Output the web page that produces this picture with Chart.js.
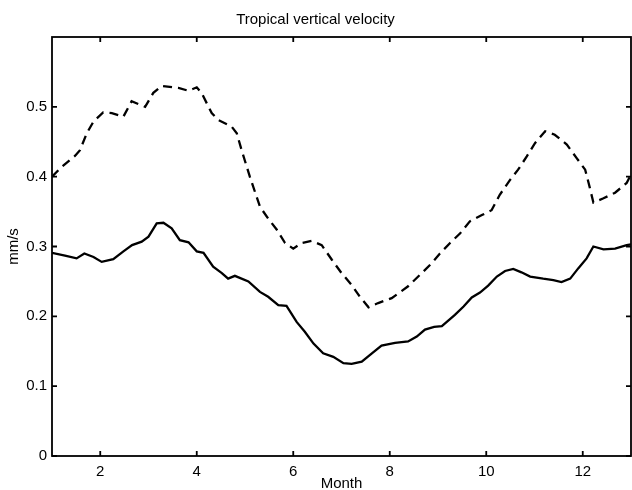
<!DOCTYPE html>
<html>
<head>
<meta charset="utf-8">
<script src="https://cdn.jsdelivr.net/npm/chart.js@4/dist/chart.umd.min.js"></script>
<style>
  html, body { margin: 0; padding: 0; background: #fff; }
  #wrap { width: 632px; height: 490px; }
</style>
</head>
<body>
<div id="wrap"><canvas id="c"></canvas></div>
<script>
// upper curve (dashed)
const dashedMonth = [1.00,1.20,1.48,1.58,1.72,1.86,2.06,2.24,2.48,2.65,2.93,3.10,3.27,3.62,3.83,4.00,4.10,4.31,4.45,4.72,4.83,4.93,5.10,5.31,5.48,5.66,5.83,6.00,6.17,6.38,6.59,6.80,7.00,7.21,7.38,7.56,7.76,8.04,8.38,8.59,8.87,9.04,9.25,9.46,9.66,9.91,10.11,10.28,10.49,10.66,10.84,11.01,11.22,11.42,11.67,11.87,12.05,12.14,12.22,12.43,12.67,12.91,13.00];
const dashedVals  = [0.400,0.414,0.430,0.438,0.462,0.479,0.492,0.491,0.486,0.508,0.500,0.520,0.530,0.527,0.523,0.528,0.520,0.491,0.481,0.472,0.462,0.438,0.400,0.357,0.340,0.324,0.305,0.297,0.305,0.308,0.302,0.281,0.262,0.245,0.228,0.213,0.219,0.226,0.243,0.257,0.276,0.290,0.305,0.319,0.336,0.345,0.352,0.374,0.395,0.410,0.429,0.448,0.465,0.460,0.446,0.427,0.410,0.386,0.363,0.369,0.377,0.391,0.403];

// lower curve (solid)
const solidMonth = [1.00,1.27,1.51,1.67,1.86,2.03,2.27,2.48,2.66,2.86,3.00,3.17,3.31,3.48,3.65,3.83,4.00,4.14,4.34,4.52,4.65,4.79,5.07,5.31,5.48,5.69,5.86,6.07,6.24,6.42,6.62,6.83,7.04,7.21,7.42,7.63,7.83,8.11,8.38,8.56,8.73,8.92,9.08,9.35,9.53,9.70,9.87,10.04,10.22,10.39,10.56,10.73,10.91,11.18,11.39,11.56,11.74,11.91,12.08,12.22,12.43,12.67,12.91,13.00];
const solidVals  = [0.291,0.287,0.283,0.290,0.285,0.278,0.282,0.293,0.302,0.307,0.314,0.333,0.334,0.326,0.309,0.306,0.293,0.291,0.271,0.262,0.254,0.258,0.250,0.235,0.228,0.216,0.215,0.192,0.178,0.161,0.147,0.142,0.133,0.132,0.135,0.147,0.158,0.162,0.164,0.171,0.181,0.185,0.186,0.202,0.214,0.227,0.234,0.244,0.257,0.265,0.268,0.263,0.257,0.254,0.252,0.249,0.254,0.269,0.283,0.300,0.296,0.297,0.302,0.303];

const xTicks = [2, 4, 6, 8, 10, 12];
const yTicks = [0, 0.1, 0.2, 0.3, 0.4, 0.5];

const FONT = "'Liberation Sans', Arial, sans-serif";

function toPoints(xs, ys) {
    return xs.map((x, i) => ({ x: x, y: ys[i] }));
}

// matlab style box with inward ticks
const boxPlugin = {
    id: 'boxPlugin',
    afterDatasetsDraw(chart) {
        const ctx = chart.ctx;
        const a = chart.chartArea;
        const xs = chart.scales.x, ys = chart.scales.y;
        const len = 5;
        ctx.save();
        ctx.strokeStyle = '#000';
        ctx.lineWidth = 1.8;
        ctx.strokeRect(a.left, a.top, a.right - a.left, a.bottom - a.top);
        ctx.beginPath();
        xTicks.forEach(v => {
            const px = xs.getPixelForValue(v);
            ctx.moveTo(px, a.bottom); ctx.lineTo(px, a.bottom - len);
            ctx.moveTo(px, a.top); ctx.lineTo(px, a.top + len);
        });
        yTicks.forEach(v => {
            const py = ys.getPixelForValue(v);
            ctx.moveTo(a.left, py); ctx.lineTo(a.left + len, py);
            ctx.moveTo(a.right, py); ctx.lineTo(a.right - len, py);
        });
        ctx.stroke();
        ctx.restore();
    }
};

new Chart(document.getElementById('c'), {
    type: 'line',
    data: {
        datasets: [
            {
                data: toPoints(dashedMonth, dashedVals),
                borderColor: '#000',
                borderWidth: 2.3,
                borderDash: [9, 6],
                pointRadius: 0,
                tension: 0
            },
            {
                data: toPoints(solidMonth, solidVals),
                borderColor: '#000',
                borderWidth: 2.3,
                pointRadius: 0,
                tension: 0
            }
        ]
    },
    options: {
        responsive: true,
        maintainAspectRatio: false,
        animation: false,
        layout: { padding: { left: 0, right: 1, top: 0, bottom: 0 } },
        plugins: {
            legend: { display: false },
            tooltip: { enabled: false },
            title: {
                display: true,
                text: 'Tropical vertical velocity',
                color: '#000',
                font: { family: FONT, size: 15, weight: 'normal' },
                padding: { top: 11, bottom: 8 }
            }
        },
        scales: {
            x: {
                type: 'linear',
                min: 1,
                max: 13,
                afterBuildTicks: s => { s.ticks = xTicks.map(v => ({ value: v })); },
                afterFit: s => { s.height = 34; },
                grid: { display: false, drawTicks: false },
                border: { display: false },
                ticks: { color: '#000', padding: 7, font: { family: FONT, size: 15 }, maxRotation: 0 },
                title: {
                    display: true, text: 'Month', color: '#000',
                    font: { family: FONT, size: 15 },
                    padding: { top: 0, bottom: -3 }
                }
            },
            y: {
                min: 0,
                max: 0.6,
                afterBuildTicks: s => { s.ticks = yTicks.map(v => ({ value: v })); },
                afterFit: s => { s.width = 52; },
                grid: { display: false, drawTicks: false },
                border: { display: false },
                ticks: { color: '#000', padding: 5, font: { family: FONT, size: 15 },
                         callback: v => String(v) },
                title: {
                    display: true, text: 'mm/s', color: '#000',
                    font: { family: FONT, size: 15 },
                    padding: { top: 5, bottom: 0 }
                }
            }
        }
    },
    plugins: [boxPlugin]
});
</script>
</body>
</html>
